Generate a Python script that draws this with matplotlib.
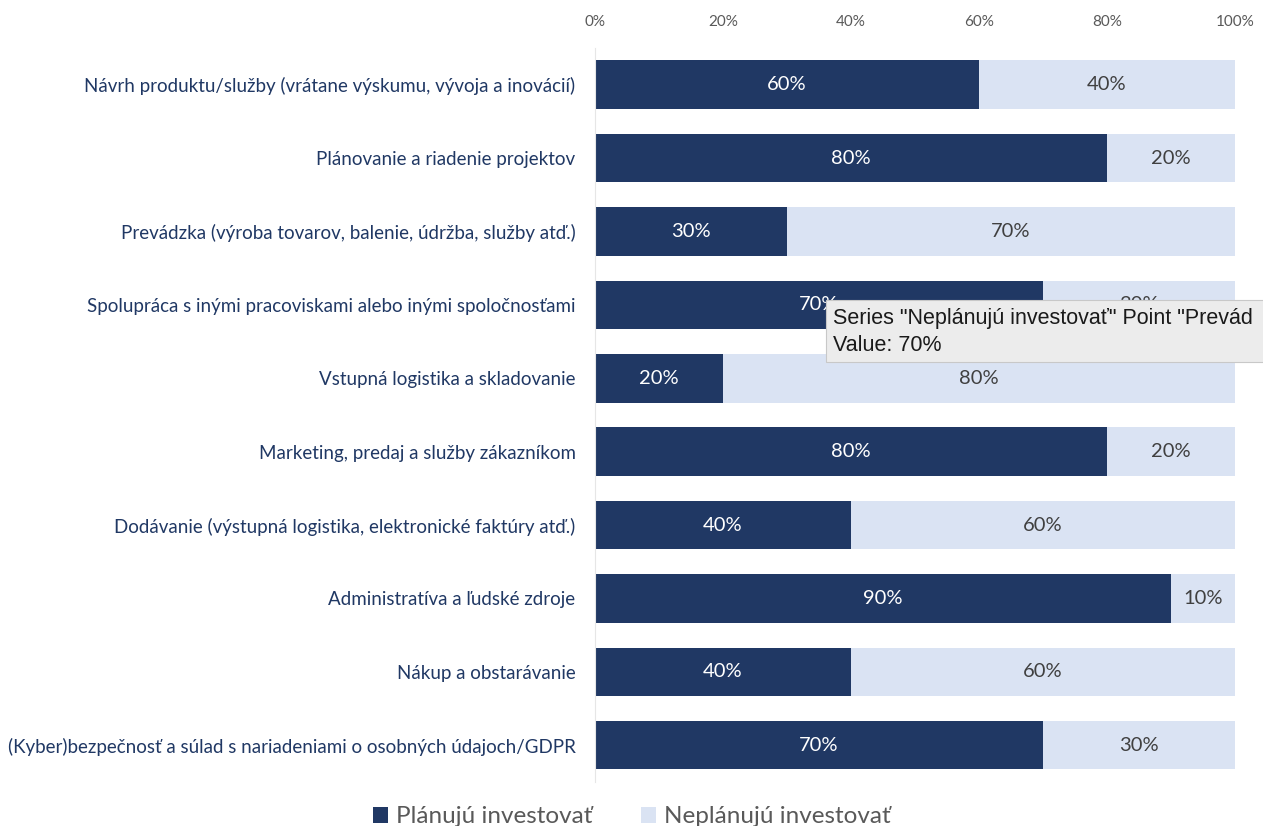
import numpy as np
import matplotlib.pyplot as plt
from matplotlib.patches import Rectangle

# oblasti investícií
kategorie = [
    'Návrh produktu/služby (vrátane výskumu, vývoja a inovácií)',
    'Plánovanie a riadenie projektov',
    'Prevádzka (výroba tovarov, balenie, údržba, služby atď.)',
    'Spolupráca s inými pracoviskami alebo inými spoločnosťami',
    'Vstupná logistika a skladovanie',
    'Marketing, predaj a služby zákazníkom',
    'Dodávanie (výstupná logistika, elektronické faktúry atď.)',
    'Administratíva a ľudské zdroje',
    'Nákup a obstarávanie',
    '(Kyber)bezpečnosť a súlad s nariadeniami o osobných údajoch/GDPR',
]
planuju = [60, 80, 30, 70, 20, 80, 40, 90, 40, 70]
neplanuju = [40, 20, 70, 30, 80, 20, 60, 10, 60, 30]
tick_hodnoty = [0, 20, 40, 60, 80, 100]

TMAVA = '#203864'
SVETLA = '#dae3f3'

plt.rcParams['font.family'] = ['Lato', 'DejaVu Sans']

fig = plt.figure(figsize=(12.63, 8.26), dpi=100)
ax = fig.add_axes([0.4711, 0.0533, 0.5067, 0.8886])

y = np.arange(len(kategorie))
b1 = ax.barh(y, planuju, height=0.66, color=TMAVA, label='Plánujú investovať')
b2 = ax.barh(y, neplanuju, left=planuju, height=0.66, color=SVETLA,
             label='Neplánujú investovať')

for i in range(len(kategorie)):
    ax.text(planuju[i] / 2, y[i], f'{planuju[i]}%', ha='center', va='center',
            color='white', fontsize=14.5)
    ax.text(planuju[i] + neplanuju[i] / 2, y[i], f'{neplanuju[i]}%',
            ha='center', va='center', color='#404040', fontsize=14.5)

ax.set_xlim(0, 100)
ax.set_ylim(len(kategorie) - 0.5, -0.5)
ax.set_yticks(y)
ax.set_yticklabels(kategorie, color=TMAVA, fontsize=13.5)
ax.set_xticks(tick_hodnoty)
ax.set_xticklabels([f'{t}%' for t in tick_hodnoty], color='#595959', fontsize=11)
ax.xaxis.tick_top()
ax.tick_params(axis='x', length=0, pad=14)
ax.tick_params(axis='y', length=0, pad=14)
for s in ['top', 'right', 'bottom']:
    ax.spines[s].set_visible(False)
ax.spines['left'].set_color('#e6e6e6')

leg = fig.legend(handles=[b1, b2], loc='lower center', bbox_to_anchor=(0.5, -0.028),
                 ncol=2, frameon=False, fontsize=17.5, handlelength=0.65,
                 handleheight=0.65, columnspacing=2.0, handletextpad=0.3)
for t in leg.get_texts():
    t.set_color('#595959')

# tooltip z Excelu
W, H = 1263, 826
fig.patches.append(Rectangle((826 / W, 1 - 362 / H), 0.4, 62 / H,
                             transform=fig.transFigure, facecolor='#ececec',
                             edgecolor='#c8c8c8', lw=0.8, zorder=5))
fig.text(833 / W, 1 - 319 / H, 'Series "Neplánujú investovať" Point "Prevád',
         fontsize=15.5, family=['Liberation Sans', 'DejaVu Sans'], va='center',
         color='#1a1a1a', zorder=6)
fig.text(833 / W, 1 - 346 / H, 'Value: 70%', fontsize=15.5,
         family=['Liberation Sans', 'DejaVu Sans'], va='center',
         color='#1a1a1a', zorder=6)

fig.savefig('out.png', dpi=100)
